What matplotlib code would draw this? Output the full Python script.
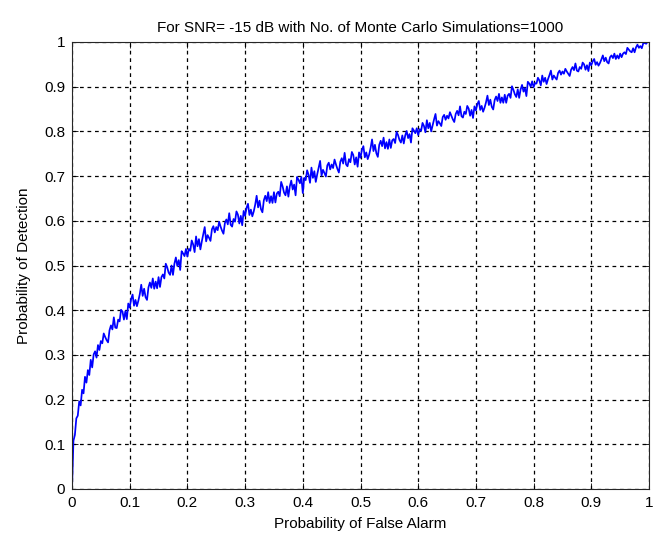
import numpy as np
import matplotlib
matplotlib.use("Agg")
import matplotlib.pyplot as plt

plt.rcParams['font.family'] = ['Liberation Sans', 'DejaVu Sans']

title = "For SNR= -15 dB with No. of Monte Carlo Simulations=1000"
xlabel = "Probability of False Alarm"
ylabel = "Probability of Detection"
ticks = [0, 0.1, 0.2, 0.3, 0.4, 0.5, 0.6, 0.7, 0.8, 0.9, 1]
tick_labels = ["0", "0.1", "0.2", "0.3", "0.4", "0.5", "0.6", "0.7", "0.8", "0.9", "1"]

# Simulated detection probability, one value per false-alarm step of 0.0025
pd_sim = [
    0.000, 0.108, 0.121, 0.158, 0.164, 0.196, 0.187, 0.222, 0.214, 0.251,
    0.238, 0.266, 0.255, 0.289, 0.272, 0.301, 0.308, 0.294, 0.322, 0.311,
    0.331, 0.326, 0.348, 0.340, 0.333, 0.328, 0.355, 0.366, 0.357, 0.384,
    0.361, 0.360, 0.379, 0.375, 0.401, 0.397, 0.379, 0.398, 0.380, 0.415,
    0.406, 0.425, 0.435, 0.410, 0.423, 0.409, 0.421, 0.436, 0.457, 0.432,
    0.448, 0.429, 0.423, 0.451, 0.462, 0.450, 0.471, 0.448, 0.464, 0.449,
    0.474, 0.452, 0.474, 0.480, 0.471, 0.504, 0.496, 0.484, 0.479, 0.500,
    0.479, 0.504, 0.518, 0.499, 0.512, 0.490, 0.532, 0.527, 0.521, 0.537,
    0.520, 0.537, 0.533, 0.556, 0.547, 0.530, 0.565, 0.543, 0.559, 0.536,
    0.554, 0.570, 0.586, 0.554, 0.568, 0.562, 0.555, 0.581, 0.588, 0.574,
    0.586, 0.579, 0.598, 0.587, 0.578, 0.571, 0.595, 0.603, 0.592, 0.617,
    0.591, 0.587, 0.604, 0.598, 0.621, 0.614, 0.594, 0.611, 0.590, 0.622,
    0.611, 0.629, 0.638, 0.613, 0.625, 0.610, 0.621, 0.636, 0.656, 0.630,
    0.645, 0.626, 0.619, 0.646, 0.656, 0.644, 0.664, 0.640, 0.655, 0.640,
    0.664, 0.641, 0.661, 0.665, 0.655, 0.687, 0.677, 0.663, 0.657, 0.677,
    0.654, 0.677, 0.690, 0.670, 0.681, 0.657, 0.698, 0.692, 0.684, 0.698,
    0.662, 0.696, 0.691, 0.713, 0.703, 0.685, 0.719, 0.696, 0.711, 0.687,
    0.704, 0.719, 0.734, 0.701, 0.714, 0.707, 0.699, 0.724, 0.730, 0.715,
    0.726, 0.718, 0.737, 0.726, 0.716, 0.708, 0.732, 0.740, 0.728, 0.752,
    0.726, 0.722, 0.738, 0.731, 0.754, 0.747, 0.726, 0.742, 0.721, 0.753,
    0.741, 0.759, 0.767, 0.742, 0.753, 0.738, 0.748, 0.763, 0.782, 0.756,
    0.770, 0.751, 0.743, 0.770, 0.779, 0.767, 0.786, 0.762, 0.776, 0.761,
    0.782, 0.763, 0.780, 0.783, 0.774, 0.799, 0.792, 0.781, 0.775, 0.791,
    0.773, 0.791, 0.801, 0.785, 0.794, 0.775, 0.807, 0.802, 0.796, 0.807,
    0.792, 0.805, 0.801, 0.819, 0.812, 0.798, 0.825, 0.807, 0.819, 0.800,
    0.814, 0.827, 0.839, 0.813, 0.823, 0.818, 0.812, 0.832, 0.837, 0.826,
    0.835, 0.829, 0.843, 0.835, 0.827, 0.821, 0.839, 0.846, 0.836, 0.856,
    0.834, 0.831, 0.844, 0.839, 0.857, 0.851, 0.835, 0.848, 0.830, 0.856,
    0.847, 0.861, 0.868, 0.848, 0.857, 0.844, 0.853, 0.865, 0.880, 0.859,
    0.871, 0.855, 0.849, 0.870, 0.878, 0.868, 0.884, 0.864, 0.876, 0.864,
    0.882, 0.864, 0.880, 0.884, 0.875, 0.901, 0.893, 0.883, 0.877, 0.894,
    0.875, 0.894, 0.904, 0.889, 0.897, 0.879, 0.911, 0.907, 0.900, 0.912,
    0.899, 0.908, 0.907, 0.920, 0.914, 0.903, 0.925, 0.911, 0.920, 0.906,
    0.917, 0.926, 0.936, 0.916, 0.925, 0.920, 0.916, 0.931, 0.936, 0.927,
    0.934, 0.929, 0.940, 0.934, 0.929, 0.924, 0.938, 0.944, 0.937, 0.952,
    0.936, 0.934, 0.944, 0.940, 0.954, 0.950, 0.938, 0.948, 0.935, 0.954,
    0.948, 0.957, 0.962, 0.949, 0.955, 0.947, 0.953, 0.961, 0.970, 0.957,
    0.965, 0.955, 0.952, 0.966, 0.970, 0.964, 0.974, 0.962, 0.970, 0.963,
    0.974, 0.966, 0.974, 0.977, 0.973, 0.987, 0.983, 0.979, 0.977, 0.986,
    0.977, 0.988, 0.994, 0.987, 0.991, 0.986, 0.997, 0.998, 0.996, 1.000,
    1.000,
]
pf_sim = np.linspace(0, 1, len(pd_sim))

fig = plt.figure(figsize=(6.64, 5.35), dpi=100)
ax = fig.add_axes([72 / 664, 1 - 489 / 535, 577 / 664, 447 / 535])

ax.plot(pf_sim, pd_sim, color="#0000ff", linewidth=1.25)

ax.set_xlim(0, 1)
ax.set_ylim(0, 1)
ax.set_xticks(ticks)
ax.set_yticks(ticks)
ax.set_xticklabels(tick_labels)
ax.set_yticklabels(tick_labels)
ax.tick_params(direction="in", length=4, width=0.6, labelsize=11,
               top=True, right=True, pad=5)
ax.grid(True, color="black", linestyle=(0, (3, 3)), linewidth=0.9)
for s in ax.spines.values():
    s.set_linewidth(0.8)
    s.set_color("#262626")

ax.set_title(title, fontsize=11, pad=7)
ax.set_xlabel(xlabel, fontsize=11, labelpad=5)
ax.set_ylabel(ylabel, fontsize=11, labelpad=9)

fig.savefig("out.png", dpi=100, facecolor="white")
